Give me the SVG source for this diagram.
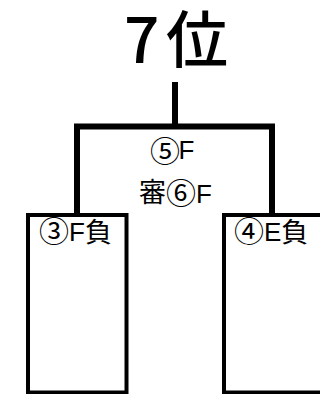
<svg xmlns="http://www.w3.org/2000/svg" width="320" height="394" viewBox="0 0 320 394">
<style>
.t{font-family:"Liberation Sans","Noto Sans CJK JP",sans-serif;font-size:26px;fill:#000}
.j{font-family:"Noto Sans CJK JP",sans-serif;font-size:27px}
.c{font-family:"Noto Sans CJK JP",sans-serif;font-size:30px}
.box{fill:none;stroke:#000;stroke-width:4}
.ln{fill:none;stroke:#000;stroke-width:6;stroke-linecap:butt;stroke-linejoin:miter}
</style>
<rect width="320" height="394" fill="#fff"/>
<g id="title"><text style="font-family:'Noto Sans CJK JP',sans-serif;font-weight:500;font-size:62px" y="63"><tspan x="124">7</tspan><tspan x="166">位</tspan></text></g>
<g id="connectors">
<path class="ln" d="M175 82V126.5"/>
<path class="ln" d="M77 215V126.5H272V215"/>
</g>
<g id="match">
<text class="t" x="150" y="159"><tspan class="c" dy="2.5">⑤</tspan><tspan dy="-2.5" dx="-1.5">F</tspan></text>
<text class="t" x="139" y="202"><tspan class="j">審</tspan><tspan class="c" dy="2">⑥</tspan><tspan dy="-1">F</tspan></text>
</g>
<g id="left"><rect class="box" x="28" y="215" width="98.5" height="177.5"/>
<text class="t" x="39" y="241"><tspan class="c" dy="0.5">③</tspan><tspan dy="-0.5">F</tspan><tspan class="j" dy="1">負</tspan></text></g>
<g id="right"><rect class="box" x="224" y="215" width="100" height="177.5"/>
<text class="t" x="234" y="241"><tspan class="c" dy="0.5">④</tspan><tspan dy="-0.5">E</tspan><tspan class="j" dy="1">負</tspan></text></g>
</svg>
